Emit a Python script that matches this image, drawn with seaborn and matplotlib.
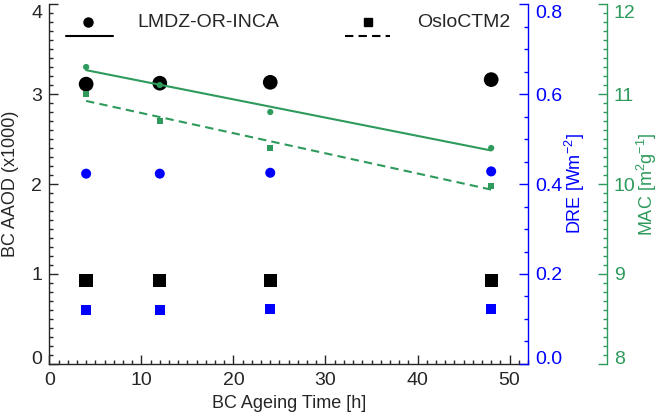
import matplotlib
matplotlib.use("Agg")
import matplotlib.pyplot as plt
import matplotlib.transforms as mtransforms
import seaborn as sns
from matplotlib.ticker import MultipleLocator, FormatStrFormatter

# ---- data ----
ageing_time = [4, 12, 24, 48]
aaod_lmdz = [3.11, 3.12, 3.13, 3.16]
aaod_oslo = [0.93, 0.93, 0.93, 0.93]
dre_lmdz = [0.423, 0.423, 0.425, 0.428]
dre_oslo = [0.120, 0.120, 0.122, 0.122]
mac_lmdz = [11.30, 11.10, 10.80, 10.40]
mac_oslo = [11.00, 10.70, 10.40, 9.98]
model_names = ["LMDZ-OR-INCA", "OsloCTM2"]

sns.set_style("ticks")
plt.rcParams['font.family'] = ['Liberation Sans', 'DejaVu Sans']
plt.rcParams['mathtext.fontset'] = 'custom'
plt.rcParams['mathtext.rm'] = 'Liberation Sans'
plt.rcParams['mathtext.it'] = 'Liberation Sans:italic'
plt.rcParams['mathtext.bf'] = 'Liberation Sans:bold'

GREEN = "#2e9a5c"
BLUE = "#0000ff"

fig = plt.figure(figsize=(6.61, 4.18), dpi=100)
ax = fig.add_axes([0.0746, 0.1292, 0.7242, 0.8612])
ax2 = ax.twinx()
ax3 = ax.twinx()

# AAOD (black)
sns.scatterplot(x=ageing_time, y=aaod_lmdz, ax=ax, marker='o', s=112,
                color='black', edgecolor='none', zorder=3)
sns.scatterplot(x=ageing_time, y=aaod_oslo, ax=ax, marker='s', s=92,
                color='black', edgecolor='none', zorder=3)
# DRE (blue)
sns.scatterplot(x=ageing_time, y=dre_lmdz, ax=ax2, marker='o', s=52,
                color=BLUE, edgecolor='none', zorder=3)
sns.scatterplot(x=ageing_time, y=dre_oslo, ax=ax2, marker='s', s=50,
                color=BLUE, edgecolor='none', zorder=3)
# MAC (green) with linear fits
sns.regplot(x=ageing_time, y=mac_lmdz, ax=ax3, scatter=False, ci=None,
            truncate=True, color=GREEN, line_kws=dict(lw=1.5))
sns.regplot(x=ageing_time, y=mac_oslo, ax=ax3, scatter=False, ci=None,
            truncate=True, color=GREEN, line_kws=dict(lw=1.5, linestyle=(0, (4, 2.5))))
sns.scatterplot(x=ageing_time, y=mac_lmdz, ax=ax3, marker='o', s=20,
                color=GREEN, edgecolor='none', zorder=3)
sns.scatterplot(x=ageing_time, y=mac_oslo, ax=ax3, marker='s', s=20,
                color=GREEN, edgecolor='none', zorder=3)

# ---- axes styling ----
ax.set_xlim(0, 52)
ax.set_ylim(0, 4)
ax2.set_ylim(0, 0.8)
ax3.set_ylim(8, 12)

ax.spines['top'].set_visible(False)
ax.spines['right'].set_visible(False)
for a in (ax2, ax3):
    a.spines['top'].set_visible(False)
    a.spines['left'].set_visible(False)
    a.spines['bottom'].set_visible(False)
ax2.spines['right'].set_color(BLUE)
ax3.spines['right'].set_color(GREEN)
ax3.spines['right'].set_position(('axes', 1.165))
for sp in ax.spines.values():
    sp.set_linewidth(1.0)
ax2.spines['right'].set_linewidth(1.0)
ax3.spines['right'].set_linewidth(1.0)

ax.xaxis.set_major_locator(MultipleLocator(10))
ax.xaxis.set_minor_locator(MultipleLocator(1))
ax.yaxis.set_major_locator(MultipleLocator(1))
ax.yaxis.set_minor_locator(MultipleLocator(0.1))
ax2.yaxis.set_major_locator(MultipleLocator(0.2))
ax2.yaxis.set_minor_locator(MultipleLocator(0.05))
ax2.yaxis.set_major_formatter(FormatStrFormatter('%.1f'))
ax3.yaxis.set_major_locator(MultipleLocator(1))
ax3.yaxis.set_minor_locator(MultipleLocator(0.1))

LS = 14
ax.tick_params(axis='both', which='both', direction='in', top=False, right=False,
               width=1.0, labelsize=LS)
ax.tick_params(which='major', length=6.5)
ax.tick_params(which='minor', length=3.2)
ax.tick_params(axis='x', which='major', pad=6)
ax.tick_params(axis='y', which='major', pad=5)

ax2.tick_params(axis='y', which='both', direction='in', colors=BLUE, width=1.0,
                labelsize=LS, pad=5)
ax2.tick_params(axis='y', which='major', length=6.5)
ax2.tick_params(axis='y', which='minor', length=3.2)
ax3.tick_params(axis='y', which='both', direction='in', colors=GREEN, width=1.0,
                labelsize=LS, pad=5)
ax3.tick_params(axis='y', which='major', length=6.5)
ax3.tick_params(axis='y', which='minor', length=3.2)

ax.set_xlabel("BC Ageing Time [h]", fontsize=13)
ax.set_ylabel("BC AAOD (x1000)", fontsize=13)
ax.yaxis.set_label_coords(-0.063, 0.5)
ax2.set_ylabel("DRE [Wm$^{-2}$]", fontsize=13, color=BLUE)
ax2.yaxis.set_label_coords(1.073, 0.5)
ax3.set_ylabel("MAC [m$^{2}$g$^{-1}$]", fontsize=13, color=GREEN)
ax3.yaxis.set_label_coords(1.2235, 0.5)

# ---- legend (marker above, line below) ----
ax.plot([0.081], [0.95], 'o', ms=6.5, color='black', transform=ax.transAxes, clip_on=False)
ax.plot([0.035, 0.133], [0.911, 0.911], '-', lw=1.5, color='black', transform=ax.transAxes, clip_on=False)
ax.text(0.185, 0.95, model_names[0], transform=ax.transAxes, va='center', ha='left', fontsize=14)
ax.plot([0.665], [0.95], 's', ms=6.0, color='black', transform=ax.transAxes, clip_on=False)
ax.plot([0.617, 0.711], [0.911, 0.911], lw=1.5, linestyle=(0, (4, 2.5)), color='black',
        transform=ax.transAxes, clip_on=False)
ax.text(0.768, 0.95, model_names[1], transform=ax.transAxes, va='center', ha='left', fontsize=14)

# keep the end labels of the vertical axes inside the axis range (IDL style)
fig.canvas.draw()
down = mtransforms.ScaledTranslation(0, -7 / 100, fig.dpi_scale_trans)
up = mtransforms.ScaledTranslation(0, 6 / 100, fig.dpi_scale_trans)
for a in (ax, ax2, ax3):
    lo, hi = a.get_ylim()
    for t in a.yaxis.get_major_ticks():
        v = t.get_loc()
        if abs(v - hi) < 1e-9:
            t.label1.set_transform(t.label1.get_transform() + down)
            t.label2.set_transform(t.label2.get_transform() + down)
        elif abs(v - lo) < 1e-9:
            t.label1.set_transform(t.label1.get_transform() + up)
            t.label2.set_transform(t.label2.get_transform() + up)

fig.savefig("out.png", dpi=100)
